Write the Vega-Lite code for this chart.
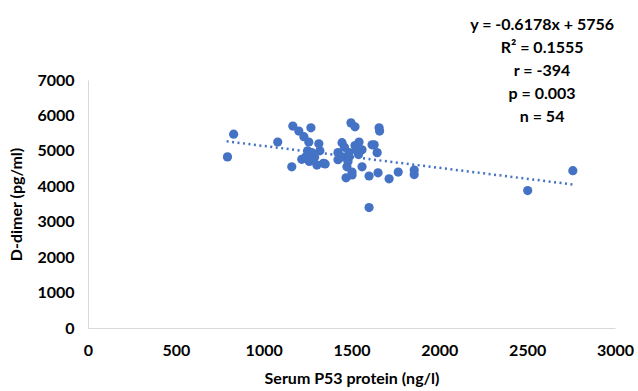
{
  "$schema": "https://vega.github.io/schema/vega-lite/v6.json",
  "autosize": {"type": "none"},
  "padding": {"left": 88, "top": 80, "right": 23, "bottom": 63},
  "width": 527,
  "height": 248,
  "background": "white",
  "config": {
    "view": {"stroke": null},
    "font": "Lato",
    "axis": {
      "grid": false, "ticks": false, "domainColor": "#D9D9D9", "domainWidth": 1,
      "labelFont": "Lato", "labelFontWeight": "bold", "labelFontSize": 16, "labelColor": "#000000",
      "format": "d", "labelOverlap": false, "labelPadding": 14,
      "titleFont": "Lato", "titleFontWeight": "bold", "titleFontSize": 16, "titleColor": "#000000"
    }
  },
  "resolve": {"axis": {"x": "independent", "y": "independent"}},
  "datasets": {
    "points": [
      {"p53": 794, "dd": 4830}, {"p53": 829, "dd": 5470}, {"p53": 1080, "dd": 5250},
      {"p53": 1160, "dd": 4550}, {"p53": 1166, "dd": 5700}, {"p53": 1200, "dd": 5560},
      {"p53": 1229, "dd": 5400}, {"p53": 1269, "dd": 5650}, {"p53": 1257, "dd": 5250},
      {"p53": 1217, "dd": 4760}, {"p53": 1240, "dd": 4830}, {"p53": 1274, "dd": 4950},
      {"p53": 1303, "dd": 4600}, {"p53": 1314, "dd": 5200}, {"p53": 1340, "dd": 4650},
      {"p53": 1290, "dd": 4820}, {"p53": 1260, "dd": 4700}, {"p53": 1320, "dd": 5000},
      {"p53": 1250, "dd": 5000}, {"p53": 1423, "dd": 4950}, {"p53": 1423, "dd": 4750},
      {"p53": 1446, "dd": 5230}, {"p53": 1446, "dd": 4830}, {"p53": 1474, "dd": 4550},
      {"p53": 1469, "dd": 4240}, {"p53": 1486, "dd": 4830}, {"p53": 1486, "dd": 4950},
      {"p53": 1497, "dd": 5790}, {"p53": 1520, "dd": 5680}, {"p53": 1503, "dd": 4320},
      {"p53": 1503, "dd": 4400}, {"p53": 1526, "dd": 5030}, {"p53": 1543, "dd": 5250},
      {"p53": 1560, "dd": 4550}, {"p53": 1560, "dd": 5030}, {"p53": 1520, "dd": 5150},
      {"p53": 1600, "dd": 4290}, {"p53": 1600, "dd": 3400}, {"p53": 1617, "dd": 5170},
      {"p53": 1629, "dd": 5170}, {"p53": 1646, "dd": 4950}, {"p53": 1657, "dd": 5650},
      {"p53": 1660, "dd": 5560}, {"p53": 1651, "dd": 4380}, {"p53": 1714, "dd": 4210},
      {"p53": 1766, "dd": 4400}, {"p53": 1857, "dd": 4460}, {"p53": 1857, "dd": 4330},
      {"p53": 2503, "dd": 3880}, {"p53": 2760, "dd": 4440}, {"p53": 1480, "dd": 4700},
      {"p53": 1460, "dd": 5100}, {"p53": 1540, "dd": 4900}, {"p53": 1350, "dd": 4630}
    ],
    "trend": [{"p53": 789, "dd": 5269}, {"p53": 2760, "dd": 4051}],
    "stats": [{"txt": ["y = -0.6178x + 5756", "R² = 0.1555", "r = -394", "p = 0.003", "n = 54"]}]
  },
  "layer": [
    {
      "data": {"name": "trend"},
      "mark": {"type": "line", "color": "#4472C4", "strokeWidth": 2.5, "strokeDash": [2, 3.5]},
      "encoding": {
        "x": {"field": "p53", "type": "quantitative", "axis": null,
              "scale": {"domain": [0, 3000], "nice": false}},
        "y": {"field": "dd", "type": "quantitative", "axis": null,
              "scale": {"domain": [0, 7000], "nice": false}}
      }
    },
    {
      "data": {"name": "points"},
      "mark": {"type": "circle", "color": "#4472C4", "opacity": 1, "size": 85},
      "encoding": {
        "x": {"field": "p53", "type": "quantitative",
              "scale": {"domain": [0, 3000], "nice": false},
              "axis": {"values": [0, 500, 1000, 1500, 2000, 2500, 3000], "labelOverlap": false,
                       "title": "Serum P53 protein (ng/l)", "titlePadding": 12, "labelFlush": false}},
        "y": {"field": "dd", "type": "quantitative",
              "scale": {"domain": [0, 7000], "nice": false},
              "axis": {"values": [0, 1000, 2000, 3000, 4000, 5000, 6000, 7000], "labelOverlap": false,
                       "labelFlush": false, "title": "D-dimer (pg/ml)", "titlePadding": 12}}
      }
    },
    {
      "data": {"name": "stats"},
      "mark": {"type": "text", "font": "Lato", "fontWeight": "bold", "fontSize": 16, "align": "center",
               "baseline": "middle", "lineHeight": 23, "dy": -55, "color": "#000000"},
      "encoding": {
        "text": {"field": "txt"},
        "x": {"datum": 2585, "type": "quantitative", "axis": null},
        "y": {"datum": 7000, "type": "quantitative", "axis": null}
      }
    }
  ]
}
